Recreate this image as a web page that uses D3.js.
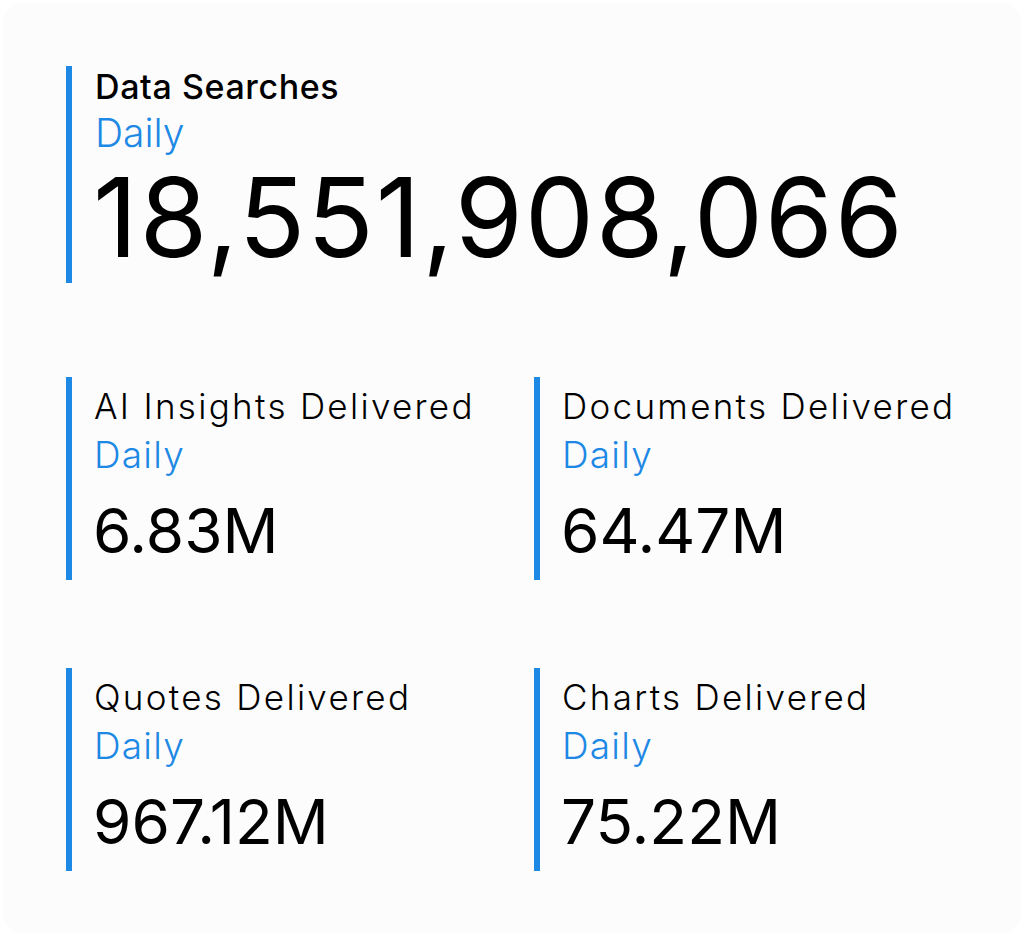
<!DOCTYPE html>
<html>
<head>
<meta charset="utf-8">
<script src="https://cdn.jsdelivr.net/npm/d3@7"></script>
<style>
  html, body { margin: 0; padding: 0; background: #fff; }
  svg text { font-family: Inter, "Noto Sans", sans-serif; }
</style>
</head>
<body>
<div id="kpis"></div>
<script>
var width = 1024,
    height = 936;

// headline metric
var mainTitle = "Data Searches";
var mainPeriod = "Daily";
var mainValue = 18551908066;

// smaller metrics, read left to right, top to bottom
var metricNames = ["AI Insights Delivered", "Documents Delivered", "Quotes Delivered", "Charts Delivered"];
var metricPeriods = ["Daily", "Daily", "Daily", "Daily"];
var metricValues = [6.83, 64.47, 967.12, 75.22]; // millions

var blue = "#1e88e5";

var svg = d3.select("#kpis")
    .append("svg")
    .attr("width", width)
    .attr("height", height);

// card background
svg.append("rect")
    .attr("x", 2).attr("y", 2)
    .attr("width", width - 4).attr("height", height - 4)
    .attr("rx", 24)
    .attr("fill", "#fcfcfc");

var fmtBig = d3.format(",");
var fmtM = function (d) { return d3.format(".2f")(d) + "M"; };

// headline block
var head = svg.append("g").attr("transform", "translate(66,66)");

head.append("rect")
    .attr("width", 6)
    .attr("height", 217)
    .attr("fill", blue);

head.append("text")
    .attr("x", 29).attr("y", 33)
    .attr("font-size", 34)
    .attr("font-weight", 500)
    .attr("letter-spacing", 0.6)
    .attr("fill", "#000")
    .text(mainTitle);

head.append("text")
    .attr("x", 29).attr("y", 81)
    .attr("font-size", 39)
    .attr("font-weight", 300)
    .attr("fill", blue)
    .text(mainPeriod);

head.append("text")
    .attr("x", 27).attr("y", 191)
    .attr("font-size", 110)
    .attr("font-weight", 400)
    .attr("letter-spacing", 1.7)
    .attr("fill", "#000")
    .text(fmtBig(mainValue));

// grid of smaller blocks
var metrics = metricNames.map(function (d, i) {
    return { name: d, period: metricPeriods[i], value: metricValues[i], col: i % 2, row: Math.floor(i / 2) };
});

var xCol = d3.scaleBand().domain([0, 1]).range([66, 1002]);
var yRow = d3.scaleBand().domain([0, 1]).range([377, 959]);

var card = svg.append("g")
    .selectAll("g")
    .data(metrics)
    .enter().append("g")
    .attr("transform", function (d) { return "translate(" + xCol(d.col) + "," + yRow(d.row) + ")"; });

card.append("rect")
    .attr("width", 6)
    .attr("height", 203)
    .attr("fill", blue);

card.append("text")
    .attr("x", 28).attr("y", 42)
    .attr("font-size", 35)
    .attr("font-weight", 300)
    .attr("letter-spacing", 2.3)
    .attr("fill", "#000")
    .text(function (d) { return d.name; });

card.append("text")
    .attr("x", 28).attr("y", 91)
    .attr("font-size", 37)
    .attr("font-weight", 300)
    .attr("letter-spacing", 1.2)
    .attr("fill", blue)
    .text(function (d) { return d.period; });

card.append("text")
    .attr("x", 27).attr("y", 176)
    .attr("font-size", 62)
    .attr("font-weight", 400)
    .attr("fill", "#000")
    .text(function (d) { return fmtM(d.value); });
</script>
</body>
</html>
